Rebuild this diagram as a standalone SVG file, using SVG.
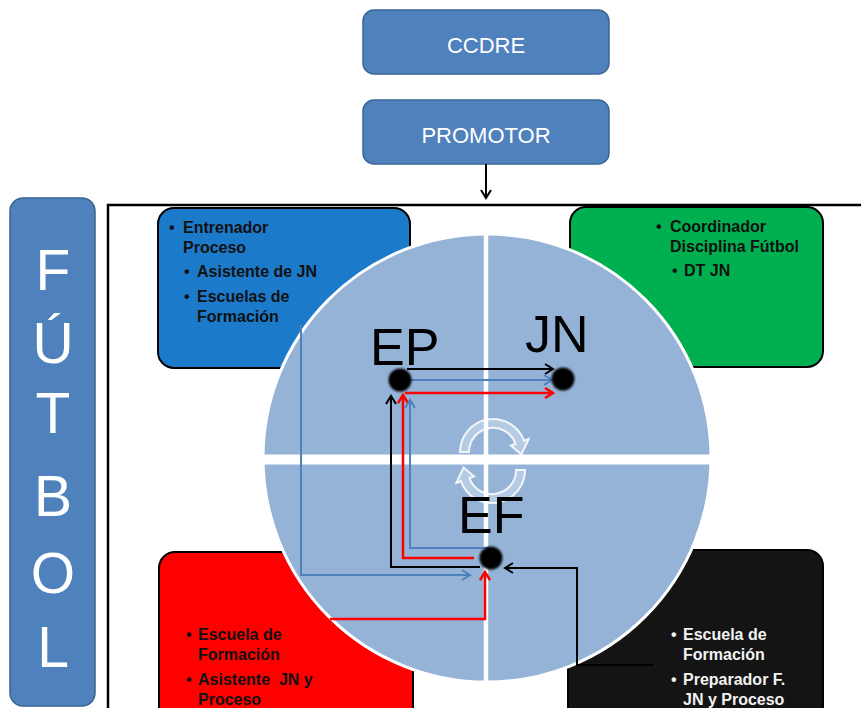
<svg xmlns="http://www.w3.org/2000/svg" width="861" height="708" viewBox="0 0 861 708">
<style>
.top{fill:#4f81bd;stroke:#3b6594;stroke-width:1.5}
.toptxt{font-family:"Liberation Sans",Arial,sans-serif;font-size:22px;fill:#fff;text-anchor:middle}
.big{font-family:"Liberation Sans",Arial,sans-serif;font-size:57px;fill:#fff;text-anchor:middle}
.box{stroke:#000;stroke-width:2}
.bt{font-family:"Liberation Sans",Arial,sans-serif;font-size:16px;font-weight:bold;fill:#111}
.wt{fill:#f2f2f2}
.lbl{font-family:"Liberation Sans",Arial,sans-serif;font-size:52px;fill:#000}
.c{fill:none;stroke-linejoin:miter}
.k{stroke:#000;stroke-width:2}
.b{stroke:#4f81bd;stroke-width:2}
.r{stroke:#ff0000;stroke-width:2.5}
.cur{fill:#ffffff;fill-opacity:0.3;stroke:#ffffff;stroke-opacity:0.85;stroke-width:2}
</style>
<defs>
<marker id="ak" markerWidth="12" markerHeight="12" refX="10" refY="6" orient="auto" markerUnits="userSpaceOnUse"><path d="M2,1 L10,6 L2,11" fill="none" stroke="#000" stroke-width="2"/></marker>
<marker id="ab" markerWidth="12" markerHeight="12" refX="10" refY="6" orient="auto" markerUnits="userSpaceOnUse"><path d="M2,1 L10,6 L2,11" fill="none" stroke="#4f81bd" stroke-width="2"/></marker>
<marker id="ar" markerWidth="12" markerHeight="12" refX="10" refY="6" orient="auto" markerUnits="userSpaceOnUse"><path d="M2,1 L10,6 L2,11" fill="none" stroke="#ff0000" stroke-width="2.5"/></marker>
<filter id="soft" x="-50%" y="-50%" width="200%" height="200%"><feGaussianBlur stdDeviation="1"/></filter>
</defs>

<g id="ccdre"><rect class="top" x="363" y="10" width="246" height="64" rx="11"/><text class="toptxt" x="486" y="53">CCDRE</text></g>
<g id="promotor"><rect class="top" x="363" y="100" width="246" height="64" rx="11"/><text class="toptxt" x="486" y="143">PROMOTOR</text></g>

<g id="frame"><path d="M108,712 L108,205 L866,205" fill="none" stroke="#000" stroke-width="2.5"/></g>

<g id="futbol">
<rect class="top" x="10" y="198" width="85" height="508" rx="13"/>
<text class="big" x="53" y="290">F</text>
<text class="big" x="53" y="363">Ú</text>
<text class="big" x="53" y="433">T</text>
<text class="big" x="53" y="516">B</text>
<text class="big" x="53" y="593">O</text>
<text class="big" x="53" y="667">L</text>
</g>

<g id="box-blue"><rect class="box" x="158" y="208" width="252" height="160" rx="16" fill="#1c7acb"/>
<text class="bt" x="169" y="233">•</text><text class="bt" x="183" y="233">Entrenador</text>
<text class="bt" x="183" y="253">Proceso</text>
<text class="bt" x="184" y="277">•</text><text class="bt" x="197" y="277">Asistente de JN</text>
<text class="bt" x="184" y="302">•</text><text class="bt" x="197" y="302">Escuelas de</text>
<text class="bt" x="197" y="322">Formación</text>
</g>
<g id="box-green"><rect class="box" x="570" y="207" width="253" height="160" rx="16" fill="#00b050"/>
<text class="bt" x="656" y="232">•</text><text class="bt" x="670" y="232">Coordinador</text>
<text class="bt" x="670" y="252">Disciplina Fútbol</text>
<text class="bt" x="672" y="276">•</text><text class="bt" x="684" y="276">DT JN</text>
</g>
<g id="box-red"><rect class="box" x="159" y="552" width="254" height="170" rx="16" fill="#ff0000"/>
<text class="bt" x="186" y="640">•</text><text class="bt" x="198" y="640">Escuela de</text>
<text class="bt" x="198" y="660">Formación</text>
<text class="bt" x="186" y="685">•</text><text class="bt" x="198" y="685" xml:space="preserve" style="white-space:pre">Asistente  JN y</text>
<text class="bt" x="198" y="705">Proceso</text>
</g>
<g id="box-black"><rect class="box" x="568" y="550" width="255" height="172" rx="16" fill="#141414"/>
<text class="bt wt" x="671" y="640">•</text><text class="bt wt" x="683" y="640">Escuela de</text>
<text class="bt wt" x="683" y="660">Formación</text>
<text class="bt wt" x="671" y="685">•</text><text class="bt wt" x="683" y="685">Preparador F.</text>
<text class="bt wt" x="683" y="705">JN y Proceso</text>
</g>

<g id="circle">
<circle cx="487" cy="458" r="224" fill="#95b3d7" stroke="#fff" stroke-width="3"/>
<line x1="486" y1="235" x2="486" y2="681" stroke="#fff" stroke-width="4.5"/>
<line x1="264" y1="459.5" x2="710" y2="459.5" stroke="#fff" stroke-width="10"/>
</g>

<g id="cycle">
<path class="cur" d="M460,452 A33,33 0 0 1 524,440.7 L528.7,439 L521.4,454.5 L510.9,445.5 L515.6,443.8 A24,24 0 0 0 469,452 Z"/>
<path class="cur" transform="rotate(180 492.5 461)" d="M460,452 A33,33 0 0 1 524,440.7 L528.7,439 L521.4,454.5 L510.9,445.5 L515.6,443.8 A24,24 0 0 0 469,452 Z"/>
</g>

<g id="connectors">
<line class="c k" x1="486" y1="164" x2="486" y2="198" marker-end="url(#ak)"/>
<line class="c k" x1="407" y1="369" x2="553" y2="369" marker-end="url(#ak)"/>
<line class="c b" x1="408" y1="380" x2="552" y2="380" marker-end="url(#ab)"/>
<line class="c r" x1="405" y1="393" x2="553" y2="393" marker-end="url(#ar)"/>
<polyline class="c k" points="480,567 391,567 391,396" marker-end="url(#ak)"/>
<polyline class="c r" points="474,558 403,558 403,395" marker-end="url(#ar)"/>
<polyline class="c b" points="490,548 410,548 410,400" marker-end="url(#ab)"/>
<polyline class="c b" points="301,325 301,575 470,575" marker-end="url(#ab)"/>
<polyline class="c r" points="330,619 485,619 485,572" marker-end="url(#ar)"/>
<polyline class="c k" points="653,665 577,665 577,568 505,568" marker-end="url(#ak)"/>
</g>

<g id="node-ep"><circle cx="400" cy="380" r="11.5" fill="#000" filter="url(#soft)"/><text class="lbl" x="370" y="365">EP</text></g>
<g id="node-jn"><circle cx="563" cy="379" r="11.5" fill="#000" filter="url(#soft)"/><text class="lbl" x="525" y="352">JN</text></g>
<g id="node-ef"><circle cx="491" cy="558" r="11.5" fill="#000" filter="url(#soft)"/><text class="lbl" x="458" y="533">EF</text></g>
</svg>
